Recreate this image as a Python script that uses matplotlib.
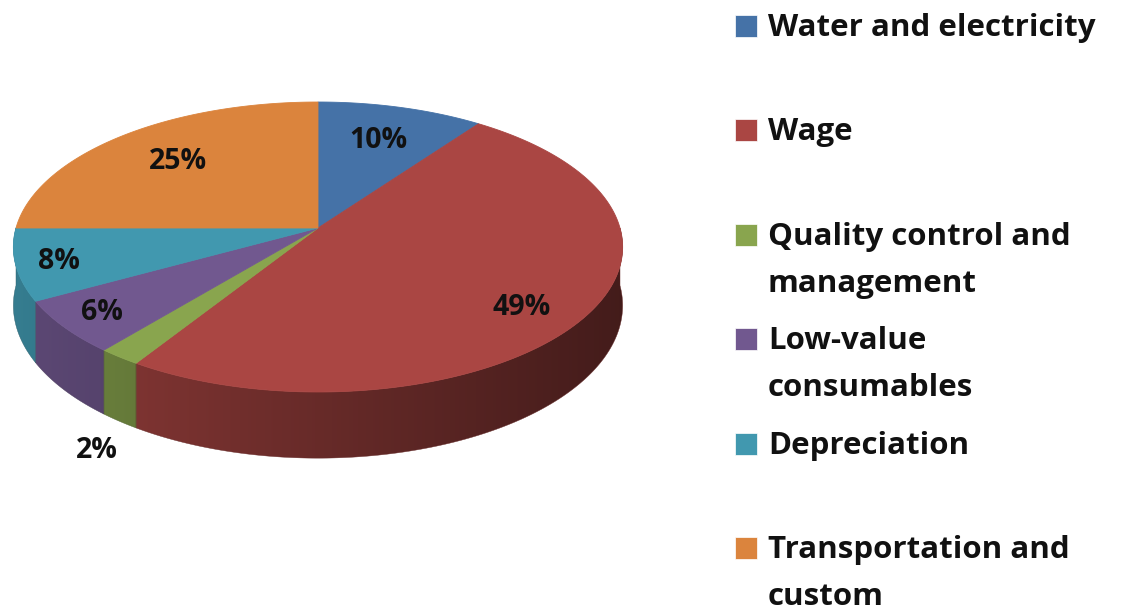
import numpy as np
import matplotlib.pyplot as plt
from matplotlib.patches import Polygon
from matplotlib.colors import to_rgb

# data
categories = ["Water and electricity", "Wage", "Quality control and\nmanagement",
              "Low-value\nconsumables", "Depreciation", "Transportation and\ncustom"]
shares = [10, 49, 2, 6, 8, 25]
colors = ["#4572A7", "#AA4643", "#89A54E", "#71588F", "#4198AF", "#DB843D"]

# label placement (radius fraction, extra y shift in px)
label_r = [0.70, 0.77, 1.10, 0.86, 0.86, 0.70]
label_dy = [0, 14, 14, 0, 2, 0]

W, H = 1135, 610
CX, CY = 318, 228      # apex of pie on screen
A, B = 302, 142.5      # horizontal / vertical radius
K = 0.131              # perspective
D = 57.5               # depth of the side

plt.rcParams['font.family'] = ['Open Sans', 'DejaVu Sans']

fig = plt.figure(figsize=(W / 100, H / 100), dpi=100)
ax = fig.add_axes([0, 0, 1, 1])
ax.set_xlim(0, W)
ax.set_ylim(H, 0)
ax.axis('off')


def proj(theta, r=1.0, z=0.0):
    th = np.radians(theta)
    u = r * np.sin(th)
    v = -r * np.cos(th)
    w = 1 - K * v
    return CX + A * u / w, CY + B * v / w + z * D / w


total = float(sum(shares))
bounds = np.concatenate([[0], np.cumsum(shares)]) / total * 360

# sides (front half only), gradient darker to the right
xs = np.linspace(CX - A - 10, CX + A + 10, 400)
shade = 0.82 - 0.42 * (xs - (CX - A)) / (2 * A)
for i in range(len(shares)):
    a0, a1 = max(bounds[i], 90), min(bounds[i + 1], 270)
    if a1 <= a0:
        continue
    ts = np.linspace(a0, a1, 200)
    top = [proj(t) for t in ts]
    bot = [proj(t, z=1) for t in ts[::-1]]
    pts = np.array(top + bot)
    base = np.array(to_rgb(colors[i]))
    img = np.clip(shade[None, :, None] * base[None, None, :], 0, 1)
    poly = Polygon(pts, closed=True, facecolor='none', edgecolor='none')
    ax.add_patch(poly)
    im = ax.imshow(img, extent=(xs[0], xs[-1], pts[:, 1].max() + 2, pts[:, 1].min() - 2),
                   aspect='auto', interpolation='bilinear', zorder=1)
    im.set_clip_path(poly)
    ax.add_patch(Polygon(pts, closed=True, facecolor='none',
                         edgecolor=np.clip(base * 0.6, 0, 1), linewidth=0.3, zorder=1.5))

# top faces
for i in range(len(shares)):
    ts = np.linspace(bounds[i], bounds[i + 1], max(int((bounds[i + 1] - bounds[i]) / 0.5), 2))
    pts = [(CX, CY)] + [proj(t) for t in ts]
    ax.add_patch(Polygon(pts, closed=True, facecolor=colors[i],
                         edgecolor=colors[i], linewidth=0.6, zorder=2))

ax.set_xlim(0, W)
ax.set_ylim(H, 0)

# percentage labels
for i, s in enumerate(shares):
    mid = (bounds[i] + bounds[i + 1]) / 2
    z = 1 if label_r[i] > 1 else 0
    x, y = proj(mid, r=label_r[i], z=z)
    ax.text(x, y + label_dy[i], f"{s}%", fontsize=20.5, fontweight='bold',
            color='#111111', ha='center', va='center', zorder=3)

# legend
leg_x, leg_y0, leg_step, line_step = 735, 36, 104.4, 47
for i, name in enumerate(categories):
    yb = leg_y0 + i * leg_step
    ax.add_patch(Polygon([(leg_x, yb - 21), (leg_x + 22, yb - 21), (leg_x + 22, yb + 1), (leg_x, yb + 1)],
                         closed=True, facecolor=colors[i], edgecolor='white', linewidth=0.5))
    for j, line in enumerate(name.split("\n")):
        ax.text(768, yb + j * line_step, line, fontsize=22.5, fontweight='bold',
                color='#111111', ha='left', va='baseline')

fig.savefig("out.png", dpi=100, facecolor='white')
